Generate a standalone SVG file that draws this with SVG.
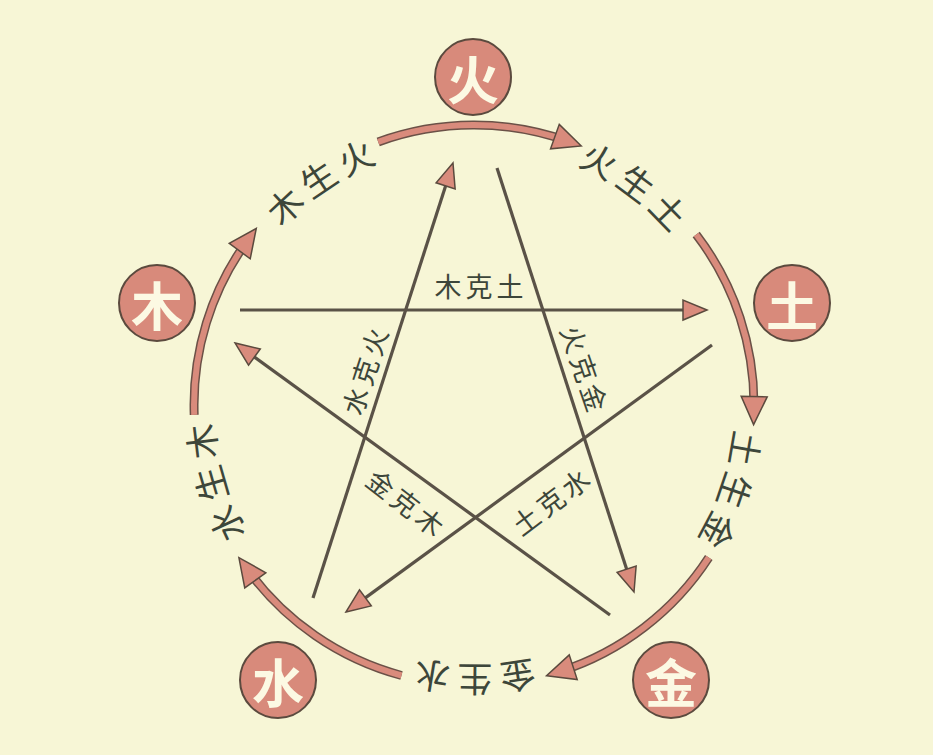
<svg xmlns="http://www.w3.org/2000/svg" width="933" height="755" viewBox="0 0 933 755">
<defs>
<style>
.ring-o{fill:none;stroke:#6b5147;stroke-width:9}
.ring-i{fill:none;stroke:#d98b7c;stroke-width:6;marker-end:url(#ahBig)}
.star{fill:none;stroke:#5a5247;stroke-width:3.2;marker-end:url(#ah)}
.node circle{fill:#d88a7b;stroke:#5b4a3e;stroke-width:2}
.node text{font-family:"Noto Sans CJK SC","Noto Sans",sans-serif;font-weight:bold;font-size:52px;fill:#fcf9e3;text-anchor:middle;dominant-baseline:central}
.lbl{font-family:"Noto Sans CJK SC","Noto Sans",sans-serif;font-size:35px;letter-spacing:6px;fill:#3d463a;text-anchor:middle}
.in{font-family:"Noto Sans CJK SC","Noto Sans",sans-serif;font-size:27px;letter-spacing:4px;fill:#3d463a;text-anchor:middle;dominant-baseline:central}
</style>
<marker id="ahBig" markerUnits="userSpaceOnUse" viewBox="-16 -15 32 30" refX="0" refY="0" markerWidth="32" markerHeight="30" orient="auto">
<path d="M14,0 L-14,-13 L-14,13 Z" fill="#d98b7c" stroke="#5b4a3e" stroke-width="1.5"/>
</marker>
<marker id="ah" markerUnits="userSpaceOnUse" viewBox="-14 -12 28 24" refX="0" refY="0" markerWidth="28" markerHeight="24" orient="auto">
<path d="M12,0 L-12,-10 L-12,10 Z" fill="#d98b7c" stroke="#5b4a3e" stroke-width="1.5"/>
</marker>
<path id="ringText" d="M474,144 A261,261 0 1 1 474,666 A261,261 0 1 1 474,144"/>
</defs>
<rect width="933" height="755" fill="#f7f6d6"/>
<g id="connectors">
<path class="ring-o" d="M378.2,141.9 A280,280 0 0 1 568.1,141.3"/>
<path class="ring-i" d="M378.2,141.9 A280,280 0 0 1 568.1,141.3"/>
<path class="ring-o" d="M696.2,234.5 A280,280 0 0 1 753.9,410.6"/>
<path class="ring-i" d="M696.2,234.5 A280,280 0 0 1 753.9,410.6"/>
<path class="ring-o" d="M708.8,557.5 A280,280 0 0 1 559.9,671.5"/>
<path class="ring-i" d="M708.8,557.5 A280,280 0 0 1 559.9,671.5"/>
<path class="ring-o" d="M401.5,675.5 A280,280 0 0 1 247.1,569.0"/>
<path class="ring-i" d="M401.5,675.5 A280,280 0 0 1 247.1,569.0"/>
<path class="ring-o" d="M194.2,414.8 A280,280 0 0 1 248.0,239.8"/>
<path class="ring-i" d="M194.2,414.8 A280,280 0 0 1 248.0,239.8"/>
<path class="star" d="M240,310 L695,310"/>
<path class="star" d="M497,168 L630.3,580.6"/>
<path class="star" d="M712,345 L355.7,604.9"/>
<path class="star" d="M610,615 L244.7,350"/>
<path class="star" d="M313,598 L449.3,174.4"/>
</g>
<g id="labels">
<text class="lbl"><textPath href="#ringText" startOffset="167.6">火生土</textPath></text>
<text class="lbl"><textPath href="#ringText" startOffset="495.9">土生金</textPath></text>
<text class="lbl"><textPath href="#ringText" startOffset="821.8">金生水</textPath></text>
<text class="lbl"><textPath href="#ringText" startOffset="1156.4">水生木</textPath></text>
<text class="lbl"><textPath href="#ringText" startOffset="1484.8">木生火</textPath></text>
<text class="in" x="481" y="285">木克土</text>
<text class="in" transform="translate(585,368) rotate(71)" x="2" y="0">火克金</text>
<text class="in" transform="translate(550,501) rotate(-37)" x="2" y="0">土克水</text>
<text class="in" transform="translate(406,502) rotate(38)" x="2" y="0">金克木</text>
<text class="in" transform="translate(364,371) rotate(-72)" x="2" y="0">水克火</text>
</g>
<g id="node-fire" class="node"><circle cx="473" cy="77" r="38"/><text x="473" y="77">火</text></g>
<g id="node-earth" class="node"><circle cx="792" cy="303" r="38"/><text x="792" y="303">土</text></g>
<g id="node-metal" class="node"><circle cx="671" cy="680" r="38"/><text x="671" y="680">金</text></g>
<g id="node-water" class="node"><circle cx="278" cy="680" r="38"/><text x="278" y="680">水</text></g>
<g id="node-wood" class="node"><circle cx="157" cy="303" r="38"/><text x="157" y="303">木</text></g>
</svg>
